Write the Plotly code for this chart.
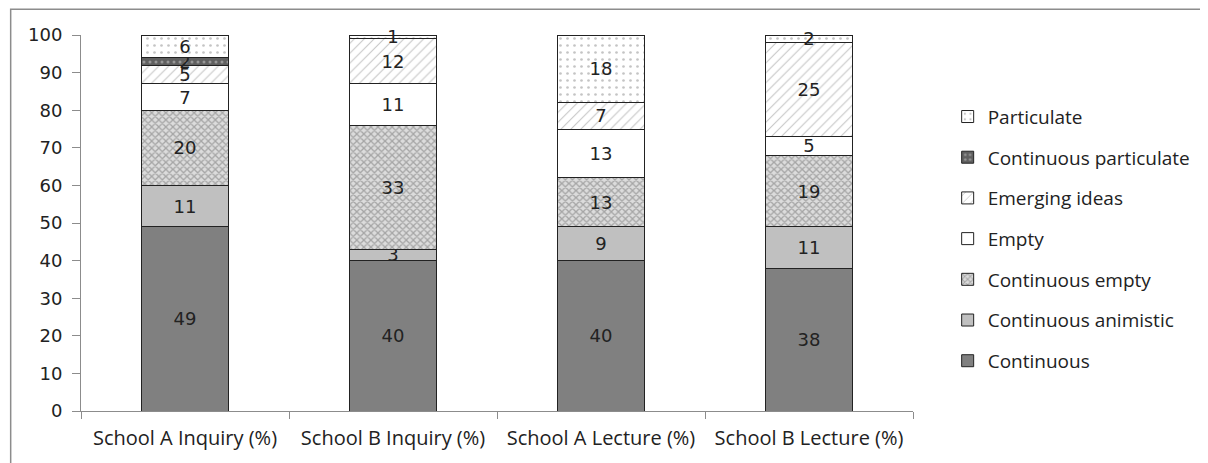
import plotly.graph_objects as go

categories = ["School A Inquiry (%)", "School B Inquiry (%)", "School A Lecture (%)", "School B Lecture (%)"]
series_names = ["Continuous", "Continuous animistic", "Continuous empty", "Empty",
                "Emerging ideas", "Continuous particulate", "Particulate"]
continuous = [49, 40, 40, 38]
continuous_animistic = [11, 3, 9, 11]
continuous_empty = [20, 33, 13, 19]
empty = [7, 11, 13, 5]
emerging_ideas = [5, 12, 7, 25]
continuous_particulate = [2, 0, 0, 0]
particulate = [6, 1, 18, 2]
y_ticks = [0, 10, 20, 30, 40, 50, 60, 70, 80, 90, 100]

values = [continuous, continuous_animistic, continuous_empty, empty,
          emerging_ideas, continuous_particulate, particulate]

styles = [
    dict(color="#808080", pattern=None),
    dict(color="#c0c0c0", pattern=None),
    dict(color="#c8c8c8", pattern=dict(shape="x", fgcolor="#6e6e6e", bgcolor="#dcdcdc", size=5, solidity=0.45)),
    dict(color="#ffffff", pattern=None),
    dict(color="#ffffff", pattern=dict(shape="/", fgcolor="#8a8a8a", bgcolor="#ffffff", size=7, solidity=0.15)),
    dict(color="#606060", pattern=dict(shape=".", fgcolor="#d0d0d0", bgcolor="#606060", size=6, solidity=0.2)),
    dict(color="#ffffff", pattern=dict(shape=".", fgcolor="#8a8a8a", bgcolor="#ffffff", size=7, solidity=0.12)),
]

fig = go.Figure()
n = len(series_names)
for i, (name, vals, st) in enumerate(zip(series_names, values, styles)):
    marker = dict(color=st["color"], line=dict(color="#222222", width=1))
    if st["pattern"] is not None:
        marker["pattern"] = st["pattern"]
    fig.add_trace(go.Bar(
        x=categories, y=vals, name=name, marker=marker,
        text=[str(v) if v else "" for v in vals],
        textposition="inside", insidetextanchor="middle", textangle=0,
        textfont=dict(family="DejaVu Sans", size=18, color="#222222"),
        constraintext="none", cliponaxis=False,
        legendgroup=name, legendrank=n - i,
    ))

# page body has an 8px offset; target pixel coordinates are for the screenshot
OFF = 8
W, H = 1200, 455
L, T = 81 - OFF, 35 - OFF
pw, ph = 840, 378
R = W - L - pw
B = H - T - ph

def px_x(px):
    return (px - OFF - L) / pw

def px_y(py):
    return (T + ph - (py - OFF)) / ph

fig.update_layout(
    width=W, height=H,
    barmode="stack", bargap=0.583,
    margin=dict(l=L, r=R, t=T, b=B),
    paper_bgcolor="white", plot_bgcolor="white",
    uniformtext=dict(mode="show", minsize=18),
    legend=dict(
        traceorder="grouped", tracegroupgap=13,
        x=px_x(956), y=px_y(98), xanchor="left", yanchor="top",
        font=dict(family="Open Sans", size=19, color="#222222"),
        itemwidth=30,
    ),
    xaxis=dict(
        showline=True, linecolor="#8c8c8c", linewidth=1,
        ticks="outside", tickson="boundaries", ticklen=7, tickcolor="#8c8c8c",
        tickfont=dict(family="Open Sans", size=20, color="#222222"),
        ticklabelstandoff=9,
        showgrid=False,
    ),
    yaxis=dict(
        range=[0, 100], tickvals=y_ticks,
        showline=True, linecolor="#8c8c8c", linewidth=1,
        ticks="outside", ticklen=8, tickcolor="#8c8c8c",
        tickfont=dict(family="DejaVu Sans", size=18, color="#222222"),
        ticklabelstandoff=6,
        showgrid=False, zeroline=False,
    ),
    shapes=[dict(type="rect", xref="paper", yref="paper",
                 x0=px_x(10), x1=px_x(1212), y0=px_y(470), y1=px_y(9),
                 line=dict(color="#8c8c8c", width=1.5), layer="below")],
)

fig.write_html("out.html")
